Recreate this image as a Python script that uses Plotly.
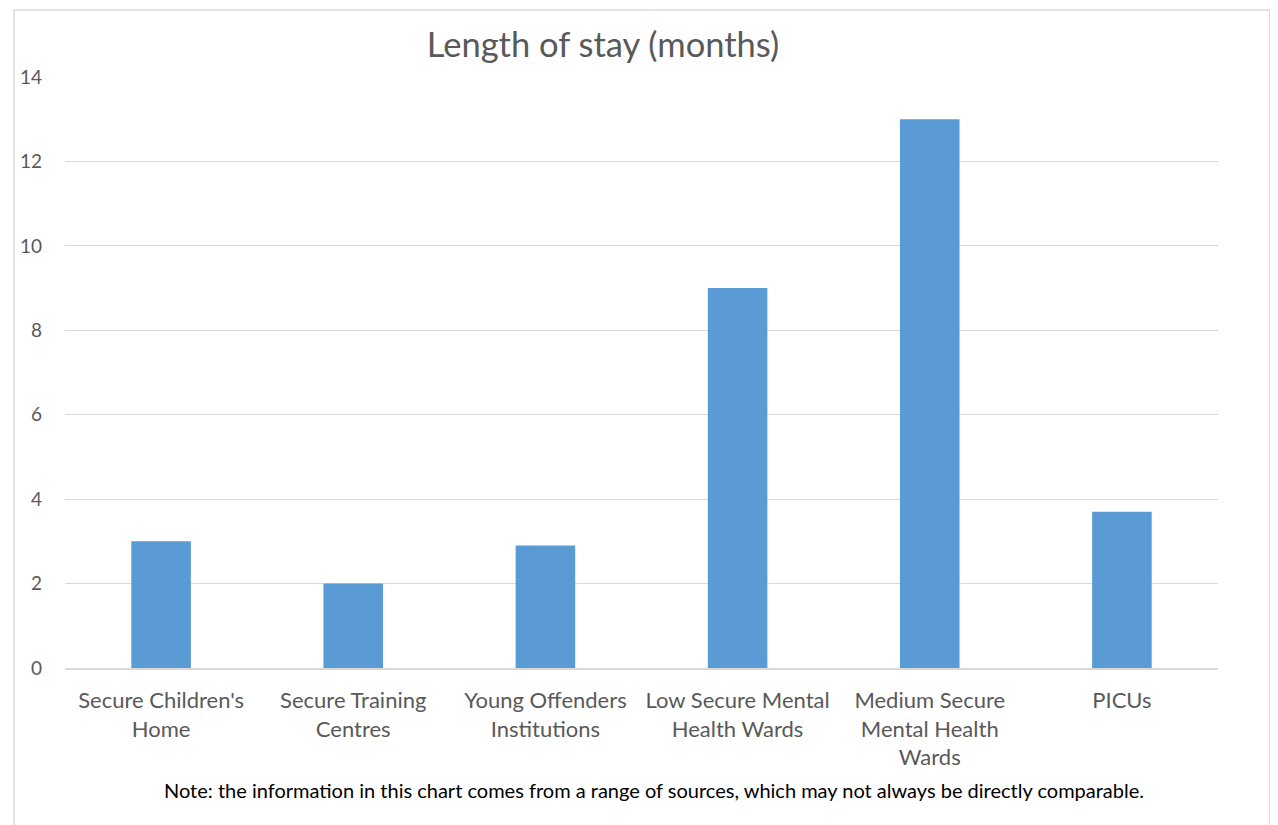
import plotly.graph_objects as go

categories = ["Secure Children's<br>Home", "Secure Training<br>Centres", "Young Offenders<br>Institutions",
              "Low Secure Mental<br>Health Wards", "Medium Secure<br>Mental Health<br>Wards", "PICUs"]
values = [3, 2, 2.9, 9, 13, 3.7]
y_ticks = [0, 2, 4, 6, 8, 10, 12, 14]

FONT = "Lato, Open Sans, sans-serif"
OFF = 8  # page body offset

fig = go.Figure(go.Bar(x=categories, y=values, marker_color="#5b9bd5", marker_line_width=0))

fig.update_layout(
    width=1278, height=825,
    margin=dict(l=62 - OFF, r=1278 - (1218 - OFF), t=77 - OFF, b=825 - (668 - OFF)),
    paper_bgcolor="white", plot_bgcolor="white",
    bargap=0.69,
    showlegend=False,
    font=dict(family=FONT, color="#595959"),
    title=dict(text="Length of stay (months)", x=(603 - OFF) / 1278, xanchor="center",
               y=1 - (45 - OFF) / 825, yanchor="middle",
               font=dict(size=34.5, family=FONT, color="#595959")),
    xaxis=dict(showgrid=False, showline=True, linecolor="#d9d9d9", linewidth=1.5,
               tickfont=dict(size=22, family=FONT, color="#595959"), ticks="",
               ticklabelstandoff=12, fixedrange=True),
    yaxis=dict(range=[0, 14], tickvals=y_ticks, showgrid=True, gridcolor="#d9d9d9", gridwidth=1.3,
               zeroline=False, showline=False, ticks="", ticklabelstandoff=22,
               tickfont=dict(size=19, family=FONT, color="#595959")),
    annotations=[dict(text="Note: the information in this chart comes from a range of sources, which may not always be directly comparable.",
                      xref="paper", yref="paper", x=(653 - 62) / 1156, y=-(790 - 668) / 591,
                      xanchor="center", yanchor="middle", showarrow=False,
                      font=dict(size=20, family=FONT, color="black"))],
    shapes=[dict(type="rect", xref="paper", yref="paper",
                 x0=(11 - 62) / 1156, x1=(1270 - 62) / 1156,
                 y0=-(860 - 668) / 591, y1=(668 - 10) / 591,
                 line=dict(color="#d9d9d9", width=1.5), fillcolor="rgba(0,0,0,0)", layer="below")],
)

fig.write_html("out.html")
